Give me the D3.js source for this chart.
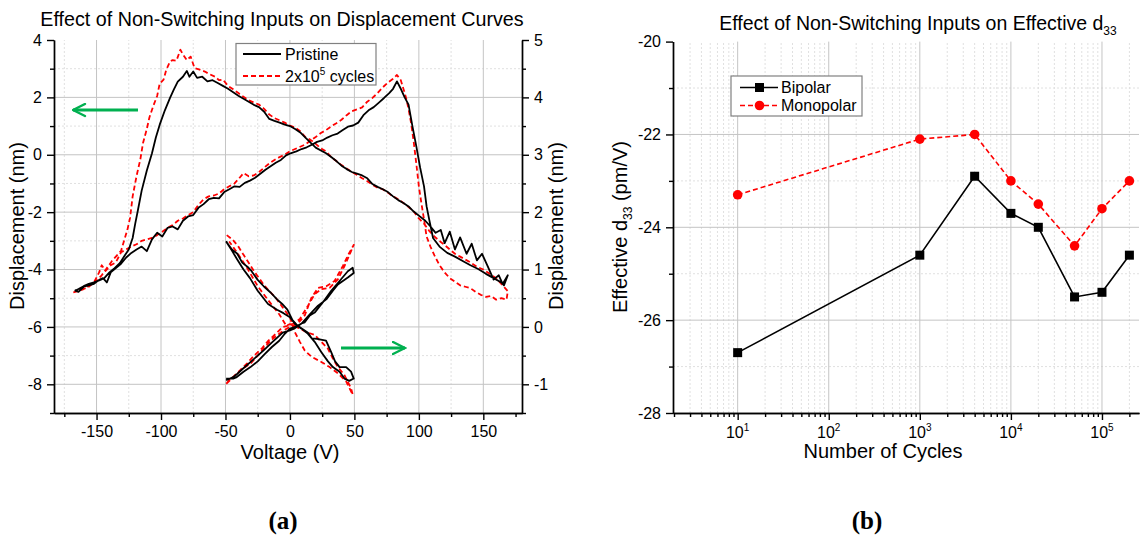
<!DOCTYPE html>
<html>
<head>
<meta charset="utf-8">
<script src="https://cdnjs.cloudflare.com/ajax/libs/d3/7.8.5/d3.min.js"></script>
<style>
body { margin: 0; background: #fff; }
text { font-family: "Liberation Sans", Arial, sans-serif; fill: #000; }
.grid-major line { stroke: #c4c4c4; stroke-width: 1; }
.grid-minor line { stroke: #e0e0e0; stroke-width: 1; stroke-dasharray: 2,2; }
.axis path, .axis line { stroke: #000; stroke-width: 1.4; }
.axis text { font-size: 16px; }
</style>
</head>
<body>
<script>
// ---------- data: panel (a), [voltage V, displacement nm] ----------
var pristineLoop = [
  [-167,-4.72],[-164,-4.78],[-160,-4.6],[-156,-4.55],[-152,-4.5],[-148,-4.36],[-145,-4.3],[-142,-4.45],[-139,-4.1],[-135,-3.95],
  [-131,-3.8],[-127,-3.58],[-123,-3.42],[-119,-3.3],[-115,-3.2],[-111,-3.36],[-107,-2.95],[-103,-2.72],[-99,-2.85],[-95,-2.55],
  [-91,-2.5],[-87,-2.6],[-83,-2.3],[-79,-2.15],[-75,-2.1],[-71,-1.85],[-67,-1.72],[-63,-1.55],[-59,-1.5],[-55,-1.52],
  [-51,-1.3],[-47,-1.2],[-43,-1.1],[-39,-1.12],[-35,-0.98],[-31,-0.9],[-27,-0.8],[-23,-0.66],[-19,-0.52],[-15,-0.4],
  [-11,-0.28],[-7,-0.18],[-3,-0.02],[1,0.06],[5,0.12],[9,0.2],[13,0.26],[17,0.35],[21,0.45],[25,0.5],
  [29,0.6],[33,0.68],[37,0.74],[41,0.86],[45,0.98],[49,1.02],[53,1.12],[57,1.38],[61,1.55],[65,1.66],
  [69,1.82],[73,1.98],[77,2.15],[80,2.3],[83,2.56],
  [86,2.3],[89,2.0],[92,1.75],[95,1.0],[98,0.3],[101,-0.45],[104,-1.1],[106,-1.8],[108,-2.25],
  [111,-2.9],[116,-3.2],[122,-3.42],[128,-3.55],[134,-3.7],[140,-3.85],[146,-3.98],[152,-4.15],[158,-4.3],[164,-4.45],[166,-4.55],[169,-4.2],
  [165,-4.5],[162,-4.2],[158,-4.35],[153,-3.85],[149,-3.45],[145,-3.68],[141,-3.1],[137,-3.45],[132,-2.88],[128,-3.3],
  [124,-2.68],[120,-3.08],[117,-2.62],[113,-2.72],[109,-2.5],[105,-2.3],
  [100,-2.12],[96,-1.98],[92,-1.8],[88,-1.68],[84,-1.58],[80,-1.45],[76,-1.3],[72,-1.2],[68,-1.12],[64,-1.02],
  [60,-0.82],[56,-0.72],[52,-0.66],[48,-0.6],[44,-0.5],[40,-0.38],[36,-0.22],[32,-0.08],[28,0.05],[24,0.15],
  [20,0.25],[16,0.42],[12,0.6],[8,0.78],[4,0.9],[0,1.0],[-4,1.05],[-8,1.12],[-12,1.18],[-16,1.25],
  [-20,1.5],[-24,1.66],[-28,1.74],[-32,1.85],[-36,1.95],[-40,2.06],[-44,2.18],[-48,2.3],[-52,2.4],[-56,2.5],
  [-60,2.6],[-64,2.56],[-68,2.72],[-72,2.68],[-75,2.9],[-78,2.72],[-80,2.92],
  [-83,2.72],[-87,2.55],[-90,2.28],[-93,1.98],[-97,1.55],[-101,1.05],[-104,0.6],[-107,0.05],[-111,-0.55],[-115,-1.25],
  [-118,-1.95],[-120,-2.4],[-122,-2.9],[-125,-3.3],[-128,-3.5],[-132,-3.78],[-136,-3.95],[-140,-4.1],[-144,-4.3],[-148,-4.38],
  [-152,-4.45],[-156,-4.5],[-160,-4.58],[-164,-4.68],[-167,-4.75]
];
var cycledLoop = [
  [-168,-4.8],[-164,-4.75],[-160,-4.68],[-156,-4.6],[-152,-4.45],[-148,-4.1],[-146,-3.85],[-143,-4.05],[-139,-3.85],[-135,-3.75],
  [-131,-3.4],[-127,-3.3],[-123,-3.2],[-119,-3.12],[-115,-3.0],[-111,-2.95],[-107,-2.9],[-103,-2.8],[-99,-2.68],[-95,-2.55],
  [-91,-2.45],[-87,-2.3],[-83,-2.22],[-79,-2.1],[-75,-2.0],[-71,-1.75],[-67,-1.55],[-63,-1.45],[-59,-1.42],[-55,-1.35],
  [-51,-1.2],[-47,-1.1],[-43,-1.0],[-39,-0.8],[-36,-0.64],[-32,-0.75],[-28,-0.72],[-24,-0.6],[-20,-0.45],[-16,-0.3],
  [-12,-0.18],[-8,-0.08],[-4,0.0],[0,0.12],[4,0.2],[8,0.28],[12,0.36],[16,0.5],[20,0.62],[24,0.76],
  [28,0.86],[32,0.99],[36,1.1],[40,1.22],[44,1.38],[48,1.52],[52,1.58],[56,1.65],[60,1.85],[64,1.98],
  [68,2.15],[72,2.35],[76,2.52],[80,2.65],[83,2.78],
  [86,2.6],[88,2.3],[90,2.0],[92,1.6],[94,1.1],[96,0.45],[98,-0.3],[100,-1.1],[102,-1.7],[104,-2.25],
  [106,-2.85],[109,-3.2],[112,-3.5],[116,-3.85],[120,-4.1],[124,-4.3],[128,-4.42],[132,-4.55],[136,-4.6],[140,-4.65],
  [144,-4.78],[148,-4.88],[152,-4.95],[156,-4.92],[160,-5.05],[164,-5.0],[168,-5.05],
  [169,-4.75],[165,-4.55],[160,-4.3],[155,-4.15],[150,-4.0],[145,-3.9],[140,-3.75],[136,-3.65],[132,-3.55],[128,-3.45],
  [124,-3.3],[120,-3.15],[116,-3.0],[112,-2.85],[108,-2.65],[104,-2.4],
  [100,-2.22],[96,-1.98],[92,-1.82],[88,-1.68],[84,-1.55],[80,-1.45],[76,-1.32],[72,-1.2],[68,-1.15],[64,-1.05],
  [60,-0.92],[56,-0.82],[52,-0.7],[48,-0.6],[44,-0.48],[40,-0.36],[36,-0.22],[32,-0.08],[28,0.12],[24,0.22],
  [20,0.38],[16,0.52],[12,0.62],[8,0.82],[4,0.95],[0,1.02],[-4,1.12],[-8,1.2],[-12,1.28],[-16,1.4],
  [-20,1.6],[-24,1.75],[-28,1.82],[-32,1.9],[-36,2.02],[-40,2.15],[-44,2.28],[-48,2.4],[-52,2.62],[-55,2.6],
  [-58,2.72],[-62,2.8],[-66,2.9],[-70,2.97],[-74,3.02],[-77,3.42],[-80,3.3],[-83,3.5],[-85,3.66],
  [-88,3.28],[-91,3.3],[-93,3.25],[-96,2.95],[-98,2.62],[-101,2.48],[-103,2.05],[-106,1.7],[-109,1.3],[-111,0.9],
  [-114,0.4],[-116,-0.15],[-119,-0.75],[-122,-1.45],[-124,-2.2],[-126,-2.6],[-129,-3.05],[-131,-3.35],[-134,-3.5],[-138,-3.7],
  [-142,-3.95],[-146,-4.2],[-150,-4.4],[-155,-4.55],[-160,-4.65],[-164,-4.72],[-168,-4.8]
];
// small +/-50 V loops, right axis [voltage V, displacement nm]
var pristineSmallDown = [
  [-49.5,1.49],[-45,1.35],[-41,1.28],[-37,1.12],[-33,1.05],[-30,0.98],[-25,0.82],[-20,0.7],[-15,0.6],[-10,0.48],
  [-6,0.4],[-2,0.3],[2,0.12],[6,0.02],[10,-0.04],[14,-0.1],[17,-0.2],[21,-0.21],[28,-0.24],[32,-0.44],
  [35,-0.6],[38.5,-0.7],[43.6,-0.7],[47.4,-0.78],[49.5,-0.9],[46,-0.94],[42.3,-0.9],[38.5,-0.78],[33.3,-0.7],[29.5,-0.6],
  [24.4,-0.44],[19.2,-0.26],[14,-0.12],[9,-0.03],[4,0.05],[0,0.17],[-5,0.24],[-10,0.3],[-17,0.4],[-25,0.63],
  [-31,0.85],[-36,1.0],[-41,1.18],[-45,1.33],[-49.5,1.49]
];
var pristineSmallUp = [
  [-49.5,-0.9],[-44,-0.9],[-41.7,-0.88],[-36,-0.78],[-30.6,-0.7],[-25,-0.6],[-19.4,-0.47],[-14,-0.35],[-8.3,-0.24],[-4,-0.12],
  [0,-0.03],[4,0.0],[9,0.06],[11.5,0.08],[15.4,0.2],[19.2,0.25],[25.6,0.43],[32,0.63],[38.5,0.8],[44.9,0.97],
  [48.7,1.03],[49.5,0.94],[44.9,0.86],[37.2,0.74],[33.3,0.63],[28.2,0.48],[21.8,0.37],[15.4,0.22],[9,0.06],[4,-0.02],
  [0,-0.06],[-5.6,-0.1],[-13.9,-0.27],[-20,-0.4],[-25,-0.5],[-30,-0.6],[-36.1,-0.72],[-41,-0.82],[-44.4,-0.88],[-49.5,-0.93]
];
var cycledSmallDown = [
  [-49,1.6],[-44.4,1.52],[-40,1.4],[-36.1,1.26],[-32,1.12],[-27.8,0.97],[-23,0.82],[-19.4,0.71],[-15,0.6],[-11.1,0.51],
  [-5.6,0.34],[0,0.17],[3.8,-0.09],[7.7,-0.26],[11.5,-0.41],[16.7,-0.52],[24.4,-0.61],[30.8,-0.7],[37.2,-0.81],[43.6,-0.95],
  [48.7,-1.18],[47.4,-1.07],[42.3,-0.84],[37.2,-0.7],[33.3,-0.55],[29.5,-0.38],[24.4,-0.26],[19.2,-0.14],[12.8,-0.09],[7,-0.02],
  [0,0.05],[-2.8,0.02],[-8.3,0.22],[-16.7,0.46],[-25,0.71],[-33.3,1.03],[-41.7,1.32],[-47.2,1.49]
];
var cycledSmallUp = [
  [-49.4,-0.99],[-45,-0.9],[-41.7,-0.82],[-36,-0.72],[-30.6,-0.64],[-25,-0.5],[-19.4,-0.35],[-14,-0.22],[-8.3,-0.12],[-4,-0.05],
  [0,0.0],[3.8,0.03],[7.7,0.1],[11.5,0.2],[14,0.35],[16.7,0.51],[21.8,0.68],[28.2,0.71],[34.6,0.8],[41,1.06],
  [46,1.29],[49.5,1.43],[47.4,1.32],[42.3,1.06],[37.2,0.83],[30.8,0.68],[24.4,0.66],[19.2,0.57],[14,0.37],[7.7,0.14],
  [3,0.06],[-2,0.02],[-5.6,0.0],[-10,-0.1],[-16.7,-0.24],[-22,-0.38],[-27.8,-0.5],[-33,-0.63],[-38.9,-0.76],[-43,-0.85],
  [-47.2,-0.93],[-49.4,-0.99]
];

// ---------- data: panel (b) ----------
var cycles = [10, 1000, 4000, 10000, 20000, 50000, 100000, 200000];
var bipolar = [-26.7, -24.6, -22.9, -23.7, -24.0, -25.5, -25.4, -24.6];
var monopolar = [-23.3, -22.1, -22.0, -23.0, -23.5, -24.4, -23.6, -23.0];

var voltTicks = [-150, -100, -50, 0, 50, 100, 150];
var voltMinor = [-175, -125, -75, -25, 25, 75, 125, 175];
var dispTicks = [-8, -6, -4, -2, 0, 2, 4];
var dispMinor = [-9, -7, -5, -3, -1, 1, 3];
var rightTicks = [-1, 0, 1, 2, 3, 4, 5];
var rightMinor = [-1.5, -0.5, 0.5, 1.5, 2.5, 3.5, 4.5];
var d33Ticks = [-28, -26, -24, -22, -20];
var d33Minor = [-27, -25, -23, -21];
var decades = [10, 100, 1000, 10000, 100000];

var width = 1144, height = 538;
var svg = d3.select("body").append("svg")
  .attr("width", width).attr("height", height);

var plain = d => String(d);   // hyphen minus like the original

var green = "#00b050";
svg.append("defs").append("marker")
  .attr("id", "head").attr("viewBox", "0 0 10 10")
  .attr("refX", 9).attr("refY", 5)
  .attr("markerWidth", 5).attr("markerHeight", 5)
  .attr("orient", "auto")
  .append("path").attr("d", "M1,1 L9,5 L1,9")
  .attr("fill", "none").attr("stroke", green).attr("stroke-width", 1.6).attr("stroke-linecap", "round");

// ================= panel (a) =================
var x = d3.scaleLinear().domain([-183, 180]).range([54, 522]);
var y = d3.scaleLinear().domain([-9, 4]).range([413, 40]);
var yR = d3.scaleLinear().domain([-1.5, 5]).range([413, 40]);

var a = svg.append("g");

a.append("g").attr("class", "grid-minor")
  .selectAll("line").data(voltMinor.slice(0, -1)).enter().append("line")
  .attr("x1", d => x(d)).attr("x2", d => x(d)).attr("y1", y(-9)).attr("y2", y(4));
a.append("g").attr("class", "grid-minor")
  .selectAll("line").data(dispMinor.slice(1)).enter().append("line")
  .attr("x1", x(-183)).attr("x2", x(180)).attr("y1", d => y(d)).attr("y2", d => y(d));
a.append("g").attr("class", "grid-major")
  .selectAll("line").data(voltTicks).enter().append("line")
  .attr("x1", d => x(d)).attr("x2", d => x(d)).attr("y1", y(-9)).attr("y2", y(4));
a.append("g").attr("class", "grid-major")
  .selectAll("line").data(dispTicks.slice(0, -1)).enter().append("line")
  .attr("x1", x(-183)).attr("x2", x(180)).attr("y1", d => y(d)).attr("y2", d => y(d));

var lineL = d3.line().x(d => x(d[0])).y(d => y(d[1]));
var lineR = d3.line().x(d => x(d[0])).y(d => yR(d[1]));

function drawCurve(path, color, dash) {
  a.append("path").attr("d", path)
    .attr("fill", "none").attr("stroke", color).attr("stroke-width", 1.8)
    .attr("stroke-linejoin", "round")
    .attr("stroke-dasharray", dash);
}
drawCurve(lineR(cycledSmallDown), "#ff0000", "5,3");
drawCurve(lineR(cycledSmallUp), "#ff0000", "5,3");
drawCurve(lineL(cycledLoop), "#ff0000", "5,3");
drawCurve(lineR(pristineSmallDown), "#000", null);
drawCurve(lineR(pristineSmallUp), "#000", null);
drawCurve(lineL(pristineLoop), "#000", null);

// axes
a.append("g").attr("class", "axis").attr("transform", "translate(0,413)")
  .call(d3.axisBottom(x).tickValues(voltTicks).tickFormat(plain).tickSize(7).tickPadding(6).tickSizeOuter(0));
a.append("g").attr("class", "axis").attr("transform", "translate(0,413)")
  .call(d3.axisBottom(x).tickValues(voltMinor).tickSize(4).tickFormat("").tickSizeOuter(0));
a.append("g").attr("class", "axis").attr("transform", "translate(54,0)")
  .call(d3.axisLeft(y).tickValues(dispTicks).tickFormat(plain).tickSize(7).tickPadding(5).tickSizeOuter(0));
a.append("g").attr("class", "axis").attr("transform", "translate(54,0)")
  .call(d3.axisLeft(y).tickValues(dispMinor).tickSize(4).tickFormat("").tickSizeOuter(0));
a.append("g").attr("class", "axis").attr("transform", "translate(522,0)")
  .call(d3.axisRight(yR).tickValues(rightTicks).tickFormat(plain).tickSize(7).tickPadding(5).tickSizeOuter(0));
a.append("g").attr("class", "axis").attr("transform", "translate(522,0)")
  .call(d3.axisRight(yR).tickValues(rightMinor).tickSize(4).tickFormat("").tickSizeOuter(0));

a.append("text").attr("x", 282).attr("y", 26).attr("text-anchor", "middle")
  .attr("font-size", "19.7px").text("Effect of Non-Switching Inputs on Displacement Curves");
a.append("text").attr("x", 290).attr("y", 459).attr("text-anchor", "middle")
  .attr("font-size", "20px").text("Voltage (V)");
a.append("text").attr("transform", "translate(24,226) rotate(-90)").attr("text-anchor", "middle")
  .attr("font-size", "20px").text("Displacement (nm)");
a.append("text").attr("transform", "translate(563,226) rotate(-90)").attr("text-anchor", "middle")
  .attr("font-size", "20px").text("Displacement (nm)");

// legend (a)
var lg = a.append("g");
lg.append("rect").attr("x", 236).attr("y", 43.5).attr("width", 140).attr("height", 41.5)
  .attr("fill", "#fff").attr("stroke", "#808080").attr("stroke-width", 1.2);
lg.append("line").attr("x1", 243).attr("x2", 281).attr("y1", 54).attr("y2", 54)
  .attr("stroke", "#000").attr("stroke-width", 1.8);
lg.append("line").attr("x1", 243).attr("x2", 281).attr("y1", 76).attr("y2", 76)
  .attr("stroke", "#ff0000").attr("stroke-width", 1.8).attr("stroke-dasharray", "5,3");
lg.append("text").attr("x", 285).attr("y", 59.5).attr("font-size", "16px").text("Pristine");
var lt = lg.append("text").attr("x", 285).attr("y", 81.5).attr("font-size", "16px");
lt.append("tspan").text("2x10");
lt.append("tspan").attr("dy", -7).attr("font-size", "10px").text("5");
lt.append("tspan").attr("dy", 7).text(" cycles");

// arrows
a.append("line").attr("x1", 138).attr("y1", 110).attr("x2", 73).attr("y2", 110)
  .attr("stroke", green).attr("stroke-width", 3).attr("marker-end", "url(#head)");
a.append("line").attr("x1", 341).attr("y1", 348).attr("x2", 405).attr("y2", 348)
  .attr("stroke", green).attr("stroke-width", 3).attr("marker-end", "url(#head)");

// ================= panel (b) =================
var xb = d3.scaleLog().domain([1.95, 2.55e5]).range([673, 1139]);
var yb = d3.scaleLinear().domain([-28, -20]).range([413, 41.6]);
var b = svg.append("g");

var logMinor = [];
[1, 10, 100, 1000, 10000, 100000].forEach(function (dec) {
  for (var k = 2; k <= 9; k++) {
    var v = dec * k;
    if (v >= 1.95 && v <= 2.55e5) logMinor.push(v);
  }
});

b.append("g").attr("class", "grid-minor")
  .selectAll("line").data(logMinor.filter(v => v > 2.1)).enter().append("line")
  .attr("x1", d => xb(d)).attr("x2", d => xb(d)).attr("y1", yb(-28)).attr("y2", yb(-20));
b.append("g").attr("class", "grid-minor")
  .selectAll("line").data(d33Minor).enter().append("line")
  .attr("x1", xb(1.95)).attr("x2", xb(2.55e5)).attr("y1", d => yb(d)).attr("y2", d => yb(d));
b.append("g").attr("class", "grid-major")
  .selectAll("line").data(decades).enter().append("line")
  .attr("x1", d => xb(d)).attr("x2", d => xb(d)).attr("y1", yb(-28)).attr("y2", yb(-20));
b.append("g").attr("class", "grid-major")
  .selectAll("line").data(d33Ticks.slice(1, -1)).enter().append("line")
  .attr("x1", xb(1.95)).attr("x2", xb(2.55e5)).attr("y1", d => yb(d)).attr("y2", d => yb(d));

var bipolarPts = cycles.map((c, i) => [c, bipolar[i]]);
var monoPts = cycles.map((c, i) => [c, monopolar[i]]);
var lineB = d3.line().x(d => xb(d[0])).y(d => yb(d[1]));

b.append("path").attr("d", lineB(monoPts)).attr("fill", "none")
  .attr("stroke", "#ff0000").attr("stroke-width", 1.6).attr("stroke-dasharray", "5,3");
b.append("path").attr("d", lineB(bipolarPts)).attr("fill", "none")
  .attr("stroke", "#000").attr("stroke-width", 1.6);
b.selectAll(".mono").data(monoPts).enter().append("circle")
  .attr("cx", d => xb(d[0])).attr("cy", d => yb(d[1])).attr("r", 4.8).attr("fill", "#ff0000");
b.selectAll(".bip").data(bipolarPts).enter().append("rect")
  .attr("x", d => xb(d[0]) - 4.5).attr("y", d => yb(d[1]) - 4.5)
  .attr("width", 9).attr("height", 9).attr("fill", "#000");

b.append("g").attr("class", "axis").attr("transform", "translate(0,413)")
  .call(d3.axisBottom(xb).tickValues(decades).tickSize(7).tickFormat("").tickSizeOuter(0));
b.append("g").attr("class", "axis").attr("transform", "translate(0,413)")
  .call(d3.axisBottom(xb).tickValues(logMinor).tickSize(4).tickFormat("").tickSizeOuter(0));
b.append("g").attr("class", "axis").attr("transform", "translate(673,0)")
  .call(d3.axisLeft(yb).tickValues(d33Ticks).tickFormat(plain).tickSize(7).tickPadding(5).tickSizeOuter(0));
b.append("g").attr("class", "axis").attr("transform", "translate(673,0)")
  .call(d3.axisLeft(yb).tickValues(d33Minor).tickSize(4).tickFormat("").tickSizeOuter(0));

decades.forEach(function (d) {
  var t = b.append("text").attr("x", xb(d)).attr("y", 438).attr("text-anchor", "middle")
    .attr("font-size", "16px");
  t.append("tspan").text("10");
  t.append("tspan").attr("dy", -7).attr("font-size", "10px").text(Math.round(Math.log10(d)));
});

var tb = b.append("text").attr("x", 918).attr("y", 30).attr("text-anchor", "middle").attr("font-size", "19.5px");
tb.append("tspan").text("Effect of Non-Switching Inputs on Effective d");
tb.append("tspan").attr("dy", 5).attr("font-size", "12px").text("33");
b.append("text").attr("x", 883).attr("y", 458).attr("text-anchor", "middle")
  .attr("font-size", "20px").text("Number of Cycles");
var yl = b.append("text").attr("transform", "translate(627,227) rotate(-90)").attr("text-anchor", "middle")
  .attr("font-size", "20px");
yl.append("tspan").text("Effective d");
yl.append("tspan").attr("dy", 5).attr("font-size", "12px").text("33");
yl.append("tspan").attr("dy", -5).text(" (pm/V)");

// legend (b)
var lb = b.append("g");
lb.append("rect").attr("x", 731).attr("y", 76).attr("width", 131).attr("height", 40)
  .attr("fill", "#fff").attr("stroke", "#808080").attr("stroke-width", 1.2);
lb.append("line").attr("x1", 740).attr("x2", 778).attr("y1", 87.5).attr("y2", 87.5)
  .attr("stroke", "#000").attr("stroke-width", 1.6);
lb.append("rect").attr("x", 755).attr("y", 83).attr("width", 9).attr("height", 9).attr("fill", "#000");
lb.append("line").attr("x1", 740).attr("x2", 778).attr("y1", 105.5).attr("y2", 105.5)
  .attr("stroke", "#ff0000").attr("stroke-width", 1.6).attr("stroke-dasharray", "5,3");
lb.append("circle").attr("cx", 759.5).attr("cy", 105.5).attr("r", 4.8).attr("fill", "#ff0000");
lb.append("text").attr("x", 781).attr("y", 93).attr("font-size", "16px").text("Bipolar");
lb.append("text").attr("x", 781).attr("y", 111).attr("font-size", "16px").text("Monopolar");

// panel letters
svg.append("text").attr("x", 283).attr("y", 529).attr("text-anchor", "middle")
  .style("font-family", "'Liberation Serif', 'Times New Roman', serif")
  .attr("font-size", "25px").attr("font-weight", "bold").text("(a)");
svg.append("text").attr("x", 867).attr("y", 529).attr("text-anchor", "middle")
  .style("font-family", "'Liberation Serif', 'Times New Roman', serif")
  .attr("font-size", "25px").attr("font-weight", "bold").text("(b)");
</script>
</body>
</html>
